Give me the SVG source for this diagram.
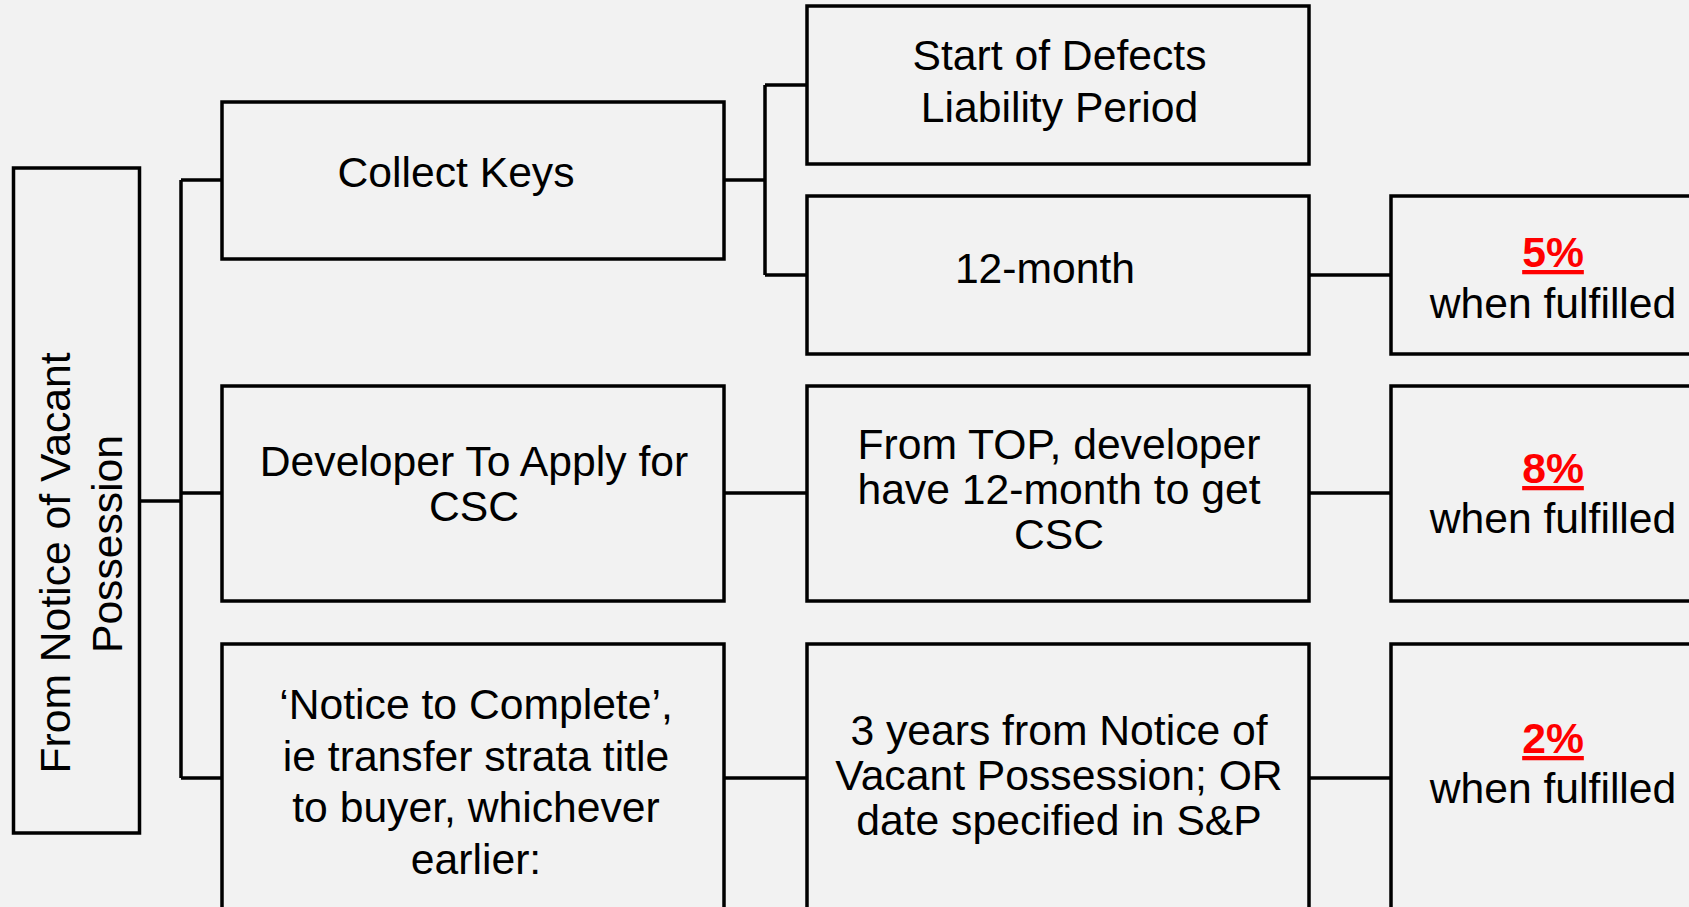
<svg xmlns="http://www.w3.org/2000/svg" width="1689" height="907" viewBox="0 0 1689 907">
  <style>
    .box { fill: none; stroke: #000; stroke-width: 3.5; }
    .wire { fill: none; stroke: #000; stroke-width: 3.5; }
    .lbl { font-family: "Liberation Sans", Arial, sans-serif; font-size: 42.67px; fill: #000; text-anchor: middle; }
    .pct { font-family: "Liberation Sans", Arial, sans-serif; font-size: 42.67px; font-weight: bold; fill: #ff0000; text-anchor: middle; text-decoration: underline; }
  </style>

  <!-- page background -->
  <rect x="0" y="0" width="1689" height="907" fill="#f2f2f2"/>

  <!-- connectors -->
  <g id="connectors">
    <!-- root bracket -->
    <path class="wire" d="M140 501 H181"/>
    <path class="wire" d="M181 180 V778"/>
    <path class="wire" d="M181 180 H222 M181 493 H222 M181 778 H222"/>
    <!-- collect keys bracket -->
    <path class="wire" d="M724 180 H765"/>
    <path class="wire" d="M765 85 V275 M765 85 H807 M765 275 H807"/>
    <!-- rows to the right -->
    <path class="wire" d="M1309 275 H1391"/>
    <path class="wire" d="M724 493 H807 M1309 493 H1391"/>
    <path class="wire" d="M724 778 H807 M1309 778 H1391"/>
  </g>

  <g id="node-vacant-possession">
    <rect class="box" x="13.5" y="168" width="126" height="665"/>
    <text class="lbl" transform="translate(70 563) rotate(-90)">From Notice of Vacant</text>
    <text class="lbl" transform="translate(121.5 544) rotate(-90)">Possession</text>
  </g>

  <g id="node-collect-keys">
    <rect class="box" x="222" y="102" width="502" height="157"/>
    <text class="lbl" x="456" y="187">Collect Keys</text>
  </g>

  <g id="node-apply-csc">
    <rect class="box" x="222" y="386" width="502" height="215"/>
    <text class="lbl" x="474" y="476">Developer To Apply for</text>
    <text class="lbl" x="474" y="521">CSC</text>
  </g>

  <g id="node-notice-to-complete">
    <rect class="box" x="222" y="644" width="502" height="300"/>
    <text class="lbl" x="476" y="719">‘Notice to Complete’,</text>
    <text class="lbl" x="476" y="771">ie transfer strata title</text>
    <text class="lbl" x="476" y="822">to buyer, whichever</text>
    <text class="lbl" x="476" y="874">earlier:</text>
  </g>

  <g id="node-defects-liability">
    <rect class="box" x="807" y="6" width="502" height="158"/>
    <text class="lbl" x="1059.5" y="70">Start of Defects</text>
    <text class="lbl" x="1059.5" y="121.5">Liability Period</text>
  </g>

  <g id="node-12-month">
    <rect class="box" x="807" y="196" width="502" height="158"/>
    <text class="lbl" x="1045" y="282.5">12-month</text>
  </g>

  <g id="node-top-csc">
    <rect class="box" x="807" y="386" width="502" height="215"/>
    <text class="lbl" x="1059" y="458.5">From TOP, developer</text>
    <text class="lbl" x="1059" y="503.5">have 12-month to get</text>
    <text class="lbl" x="1059" y="548.5">CSC</text>
  </g>

  <g id="node-three-years">
    <rect class="box" x="807" y="644" width="502" height="300"/>
    <text class="lbl" x="1059" y="745">3 years from Notice of</text>
    <text class="lbl" x="1059" y="790">Vacant Possession; OR</text>
    <text class="lbl" x="1059" y="835">date specified in S&amp;P</text>
  </g>

  <g id="node-five-percent">
    <rect class="box" x="1391" y="196" width="400" height="158"/>
    <text class="pct" x="1553" y="267">5%</text>
    <text class="lbl" x="1553" y="318">when fulfilled</text>
  </g>

  <g id="node-eight-percent">
    <rect class="box" x="1391" y="386" width="400" height="215"/>
    <text class="pct" x="1553" y="483">8%</text>
    <text class="lbl" x="1553" y="533">when fulfilled</text>
  </g>

  <g id="node-two-percent">
    <rect class="box" x="1391" y="644" width="400" height="300"/>
    <text class="pct" x="1553" y="753">2%</text>
    <text class="lbl" x="1553" y="803">when fulfilled</text>
  </g>
</svg>
